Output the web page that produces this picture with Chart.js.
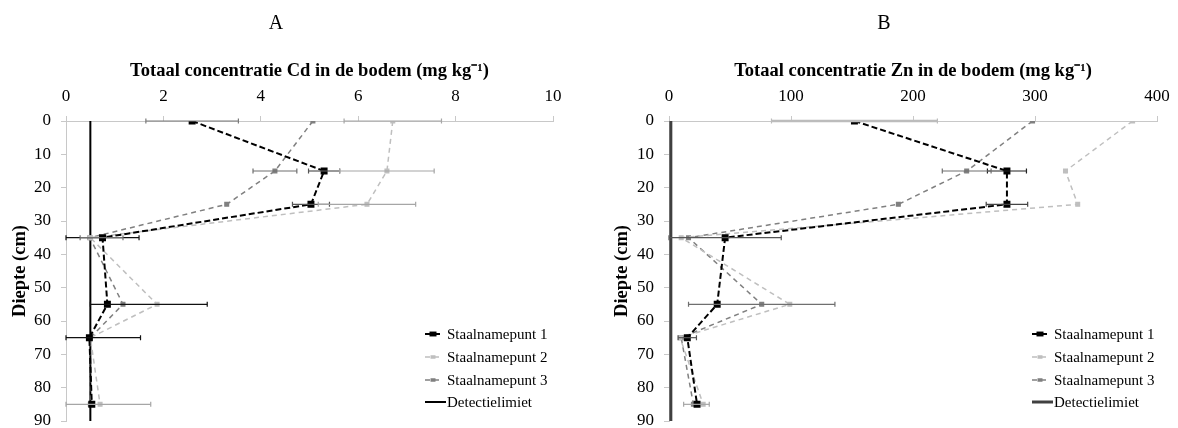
<!DOCTYPE html>
<html>
<head>
<meta charset="utf-8">
<script src="https://cdn.jsdelivr.net/npm/chart.js@4.4.1/dist/chart.umd.min.js"></script>
<style>
  html, body { margin: 0; padding: 0; background: #fff; }
  .panel { position: absolute; top: 0; width: 589px; height: 428px; }
  #panelA { left: 0; }
  #panelB { left: 589px; }
</style>
</head>
<body>
<div class="panel" id="panelA"><canvas id="chartA" width="589" height="428"></canvas></div>
<div class="panel" id="panelB"><canvas id="chartB" width="589" height="428"></canvas></div>
<script>
// sampling depths (cm)
const depths = [0, 15, 25, 35, 55, 65, 85];
const seriesNames = ['Staalnamepunt 1', 'Staalnamepunt 2', 'Staalnamepunt 3', 'Detectielimiet'];

// Cd (mg/kg) per sampling point, errors as [minus, plus]
const cd1 = [2.59, 5.30, 5.03, 0.75, 0.85, 0.48, 0.53];
const cd2 = [6.71, 6.59, 6.18, 0.50, 1.87, 0.50, 0.70];
const cd3 = [5.07, 4.29, 3.30, 0.49, 1.17, 0.50, 0.50];
const cdErr1 = [[0.95, 0.95], [0.32, 0.32], [0.38, 0.38], [0.75, 0.75], [0.35, 2.05], [0.48, 1.05], null];
const cdErr2 = [[1.0, 1.0], [0.97, 0.97], [1.0, 1.0], null, null, null, [0.70, 1.04]];
const cdErr3 = [null, [0.45, 0.45], null, [0.2, 0.68], null, null, null];
const cdLimit = 0.5;
const cdTicks = [0, 2, 4, 6, 8, 10];

// Zn (mg/kg) per sampling point
const zn1 = [152, 277, 277, 46, 39.5, 15, 23];
const zn2 = [380, 325, 335, 10, 99, 9, 28];
const zn3 = [298, 244, 188, 16, 76, 10, 20];
const znErr1 = [[68, 68], [16, 16], [17, 17], [46, 46], null, [7.5, 7.5], null];
const znErr2 = [null, null, null, null, null, null, [16, 5]];
const znErr3 = [null, [20, 20], null, null, [60, 60], null, null];
const znLimit = 1.5;
const znTicks = [0, 100, 200, 300, 400];

const depthTicks = [0, 10, 20, 30, 40, 50, 60, 70, 80, 90];

const serif = "'Liberation Serif', 'Times New Roman', serif";

function pts(vals) {
  return vals.map((v, i) => ({ x: v, y: depths[i] }));
}

// horizontal error bars with small caps
const errorBars = {
  id: 'errorBars',
  afterDatasetsDraw(chart) {
    const { ctx, chartArea, scales: { x, y } } = chart;
    ctx.save();
    ctx.beginPath();
    ctx.rect(chartArea.left - 1, chartArea.top - 4, chartArea.width + 2, chartArea.height + 8);
    ctx.clip();
    chart.data.datasets.forEach(ds => {
      if (!ds.errs) return;
      ds.errs.forEach((e, i) => {
        if (!e) return;
        const p = ds.data[i];
        const x0 = x.getPixelForValue(Math.max(0, p.x - e[0]));
        const x1 = x.getPixelForValue(p.x + e[1]);
        const py = y.getPixelForValue(p.y);
        ctx.strokeStyle = Array.isArray(ds.errColor) ? ds.errColor[i] : ds.errColor;
        ctx.lineWidth = Array.isArray(ds.errWidth) ? ds.errWidth[i] : ds.errWidth;
        ctx.beginPath();
        ctx.moveTo(x0, py); ctx.lineTo(x1, py);
        ctx.stroke();
        ctx.lineWidth = 1.2;
        ctx.beginPath();
        ctx.moveTo(x0, py - 2.5); ctx.lineTo(x0, py + 2.5);
        ctx.moveTo(x1, py - 2.5); ctx.lineTo(x1, py + 2.5);
        ctx.stroke();
      });
    });
    ctx.restore();
  }
};

// panel letter and legend block
const panelDecor = {
  id: 'panelDecor',
  afterDraw(chart, args, opts) {
    const ctx = chart.ctx;
    ctx.save();
    ctx.fillStyle = '#000';
    ctx.font = '20px ' + serif;
    ctx.textAlign = 'center';
    ctx.textBaseline = 'middle';
    ctx.fillText(opts.letter, opts.letterX, 24);

    ctx.font = '15px ' + serif;
    ctx.textAlign = 'left';
    const rows = [334, 357, 380, 402];
    chart.data.datasets.forEach((ds, i) => {
      const y = rows[i];
      const lx = opts.legendX;
      ctx.strokeStyle = ds.borderColor;
      ctx.lineWidth = ds.borderWidth;
      ctx.setLineDash(ds.borderDash || []);
      ctx.beginPath();
      ctx.moveTo(lx, y);
      ctx.lineTo(lx + (i < 3 ? 15 : 21), y);
      ctx.stroke();
      ctx.setLineDash([]);
      if (ds.pointRadius) {
        const r = ds.pointRadius;
        ctx.fillStyle = ds.pointBackgroundColor;
        ctx.fillRect(lx + 8 - r, y - r * 0.7, r * 2, r * 1.4);
      }
      ctx.fillStyle = '#000';
      ctx.fillText(ds.label, lx + 22, y + 1);
    });
    ctx.restore();
  }
};

function makeChart(id, cfg) {
  const datasets = [
    { label: seriesNames[0], data: pts(cfg.s1), errs: cfg.e1, errColor: cfg.errColor1, errWidth: cfg.errWidth1,
      borderColor: '#000', borderWidth: 2, borderDash: [6, 3],
      pointStyle: 'rect', pointRadius: 3.5, pointBackgroundColor: '#000', pointBorderColor: '#000' },
    { label: seriesNames[1], data: pts(cfg.s2), errs: cfg.e2, errColor: '#a6a6a6', errWidth: 1.2,
      borderColor: '#bfbfbf', borderWidth: 1.5, borderDash: [5, 4],
      pointStyle: 'rect', pointRadius: 2.5, pointBackgroundColor: '#bfbfbf', pointBorderColor: '#bfbfbf' },
    { label: seriesNames[2], data: pts(cfg.s3), errs: cfg.e3, errColor: '#6f6f6f', errWidth: 1.2,
      borderColor: '#808080', borderWidth: 1.5, borderDash: [5, 4],
      pointStyle: 'rect', pointRadius: 2.5, pointBackgroundColor: '#808080', pointBorderColor: '#808080' },
    { label: seriesNames[3], data: [{ x: cfg.limit, y: 0 }, { x: cfg.limit, y: 90 }],
      borderColor: cfg.limitColor, borderWidth: cfg.limitWidth, pointRadius: 0, order: 10 }
  ];

  const tickFont = { family: serif, size: 17 };
  const titleFont = { family: serif, size: 18.5, weight: 'bold' };

  return new Chart(document.getElementById(id), {
    type: 'scatter',
    data: { datasets },
    options: {
      responsive: false,
      animation: false,
      datasets: { scatter: { showLine: true } },
      layout: { padding: { left: 0, top: 0, right: cfg.padRight, bottom: 7 } },
      plugins: {
        legend: { display: false },
        tooltip: { enabled: false },
        panelDecor: { letter: cfg.letter, letterX: cfg.letterX, legendX: cfg.legendX }
      },
      scales: {
        x: {
          type: 'linear', position: 'top', min: 0, max: cfg.xTicks[cfg.xTicks.length - 1],
          afterBuildTicks: s => { s.ticks = cfg.xTicks.map(v => ({ value: v })); },
          // fixed box so the plot frame sits at the same place in both panels
          afterFit: s => { s.height = 121; s.paddingLeft = 0; s.paddingRight = 0; },
          ticks: { color: '#000', font: tickFont, padding: 9 },
          grid: { drawOnChartArea: false, tickLength: 5, color: '#c8c8c8' },
          border: { color: '#c8c8c8' },
          title: { display: true, text: cfg.title, color: '#000', font: titleFont,
                   padding: { top: 60, bottom: 0 } }
        },
        y: {
          type: 'linear', reverse: true, min: 0, max: 90,
          afterBuildTicks: s => { s.ticks = depthTicks.map(v => ({ value: v })); },
          afterFit: s => { s.width = cfg.yWidth; s.paddingTop = 0; s.paddingBottom = 0; },
          ticks: { color: '#000', font: tickFont, padding: 10 },
          grid: { drawOnChartArea: false, tickLength: 5, color: '#c8c8c8' },
          border: { color: '#c8c8c8' },
          title: { display: true, text: 'Diepte (cm)', color: '#000', font: titleFont,
                   padding: { top: cfg.yTitlePad, bottom: 0 } }
        }
      }
    },
    plugins: [errorBars, panelDecor]
  });
}

makeChart('chartA', {
  s1: cd1, s2: cd2, s3: cd3, e1: cdErr1, e2: cdErr2, e3: cdErr3,
  errColor1: ['#7a7a7a', '#555', '#555', '#111', '#111', '#111', '#111'],
  errWidth1: 1.2,
  limit: cdLimit, limitColor: '#000', limitWidth: 2,
  xTicks: cdTicks, title: 'Totaal concentratie Cd in de bodem (mg kg\u207B\u00B9)',
  yWidth: 66, padRight: 36, yTitlePad: 9,
  letter: 'A', letterX: 276, legendX: 425
});

makeChart('chartB', {
  s1: zn1, s2: zn2, s3: zn3, e1: znErr1, e2: znErr2, e3: znErr3,
  errColor1: ['#bcbcbc', '#222', '#444', '#555', '#555', '#555', '#555'],
  errWidth1: [2.5, 1.2, 1.2, 1.2, 1.2, 1.2, 1.2],
  limit: znLimit, limitColor: '#404040', limitWidth: 3,
  xTicks: znTicks, title: 'Totaal concentratie Zn in de bodem (mg kg\u207B\u00B9)',
  yWidth: 80, padRight: 21, yTitlePad: 22,
  letter: 'B', letterX: 295, legendX: 443
});
</script>
</body>
</html>
